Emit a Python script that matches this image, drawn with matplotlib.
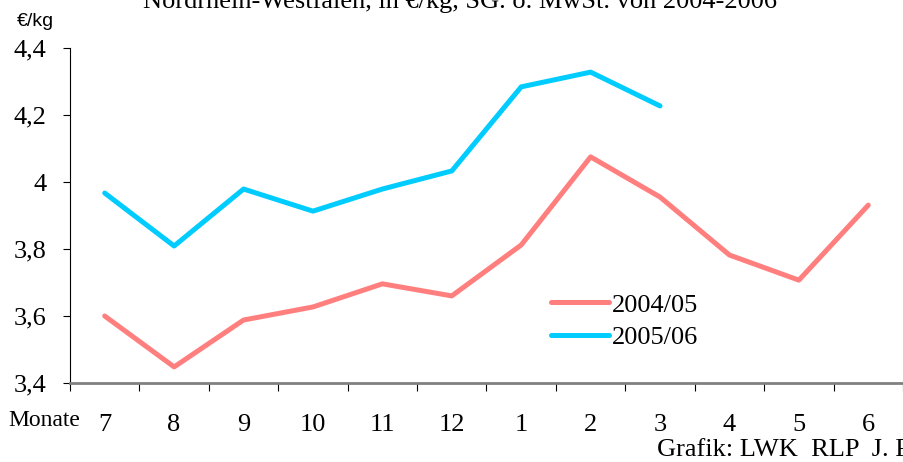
import numpy as np
import matplotlib.pyplot as plt

months = ["7", "8", "9", "10", "11", "12", "1", "2", "3", "4", "5", "6"]
price_2004 = [3.60, 3.448, 3.588, 3.627, 3.696, 3.660, 3.812, 4.075, 3.955, 3.782, 3.707, 3.931]
price_2005 = [3.967, 3.809, 3.979, 3.913, 3.979, 4.033, 4.284, 4.328, 4.227]
yticks = [3.4, 3.6, 3.8, 4.0, 4.2, 4.4]
ylabels = ["3,4", "3,6", "3,8", "4", "4,2", "4,4"]

plt.rcParams['font.family'] = ['Liberation Serif', 'DejaVu Serif']
fs = 19

fig = plt.figure(figsize=(9.04, 4.62), dpi=100)
ax = fig.add_axes([70 / 904, 1 - 383 / 462, 833 / 904, 335 / 462])

x = np.arange(len(months))
ax.plot(x, price_2004, color="#FF7F7F", lw=3.6, solid_capstyle="round", label="2004/05")
ax.plot(x[:len(price_2005)], price_2005, color="#00CCFF", lw=3.6, solid_capstyle="round", label="2005/06")

ax.set_xlim(-0.5, len(months) - 0.5)
ax.set_ylim(3.4, 4.4)
ax.set_yticks(yticks)
ax.set_yticklabels(ylabels, fontsize=fs)
ax.tick_params(axis="y", direction="out", length=5, width=0.8, pad=12)

# ticks between categories, labels on the categories
ax.set_xticks(np.arange(len(months) + 1) - 0.5)
ax.set_xticklabels([])
ax.set_xticks(x, minor=True)
ax.set_xticklabels(months, minor=True, fontsize=fs)
ax.tick_params(axis="x", which="major", direction="out", length=6, width=0.8)
ax.tick_params(axis="x", which="minor", length=0, pad=22)

for s in ["top", "right"]:
    ax.spines[s].set_visible(False)
ax.spines["left"].set_linewidth(0.8)
ax.spines["bottom"].set_color("#808080")
ax.spines["bottom"].set_linewidth(2)

ax.legend(loc="upper left", bbox_to_anchor=(0.565, 0.30), frameon=False, fontsize=fs,
          handlelength=2.2, handletextpad=0.1, labelspacing=0.35, borderaxespad=0)

fig.text(8 / 904, 1 - 421 / 462, "Monate", fontsize=17, va="center", ha="left")
fig.text(657 / 904, 1 - 450 / 462, "Grafik: LWK  RLP  J. P", fontsize=fs, va="center", ha="left")
fig.text(460 / 904, 1 - 2 / 462, "Nordrhein-Westfalen, in €/kg, SG. o. MwSt. von 2004-2006",
         fontsize=fs, va="center", ha="center")
fig.text(17 / 904, 1 - 21 / 462, "€/kg", fontsize=14, va="center", ha="left",
         family=["Liberation Sans Narrow", "Liberation Sans", "DejaVu Sans"])

fig.savefig("out.png", dpi=100)
